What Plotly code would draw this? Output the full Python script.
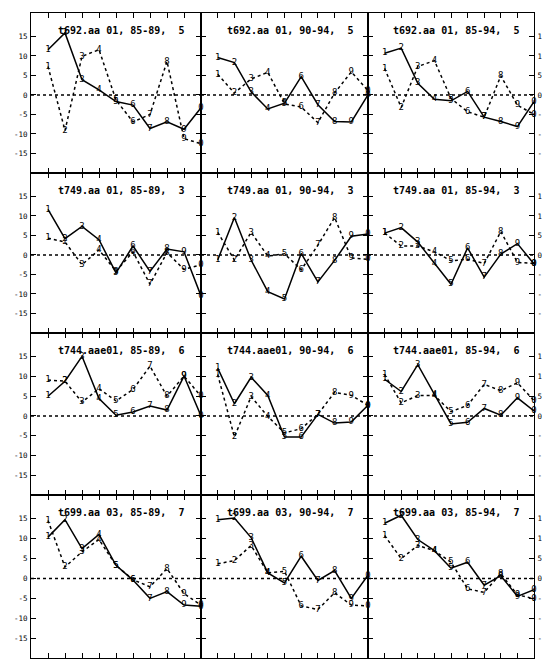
import plotly.graph_objects as go

# ---------------- data ----------------
POINTS = [1, 2, 3, 4, 5, 6, 7, 8, 9, 10]
POINT_LABELS = ["1", "2", "3", "4", "5", "6", "7", "8", "9", "0"]
Y_TICKS = [-15, -10, -5, 0, 5, 10, 15]
X_TICKS = [0, 1, 2, 3, 4, 5, 6, 7, 8, 9, 10]

TITLES = [
    "t692.aa 01, 85-89,  5", "t692.aa 01, 90-94,  5", "t692.aa 01, 85-94,  5",
    "t749.aa 01, 85-89,  3", "t749.aa 01, 90-94,  3", "t749.aa 01, 85-94,  3",
    "t744.aae01, 85-89,  6", "t744.aae01, 90-94,  6", "t744.aae01, 85-94,  6",
    "t699.aa 03, 85-89,  7", "t699.aa 03, 90-94,  7", "t699.aa 03, 85-94,  7",
]

t692_8589_solid = [11.6, 15.9, 3.9, 1.3, -1.7, -2.6, -8.6, -6.9, -8.8, -3.3]
t692_8589_dotted = [7.3, -9.1, 9.9, 11.6, -1.3, -6.9, -5.0, 8.6, -11.2, -12.5]
t692_9094_solid = [9.6, 8.3, 0.8, -3.6, -2.1, 4.7, -2.5, -6.8, -6.9, 0.0]
t692_9094_dotted = [5.3, 0.5, 4.1, 5.8, -2.3, -3.1, -7.1, 0.5, 5.9, 1.1]
t692_8594_solid = [10.7, 12.0, 3.0, -1.1, -1.5, 0.9, -5.7, -6.8, -8.1, -1.7]
t692_8594_dotted = [6.8, -3.2, 7.3, 8.8, -0.9, -4.3, -5.7, 4.9, -2.6, -5.0]

t749_8589_solid = [11.7, 4.2, 7.3, 3.9, -4.6, 2.3, -4.2, 1.5, 0.8, -10.5]
t749_8589_dotted = [4.3, 3.3, -2.5, 1.3, -4.2, 0.8, -7.5, 0.6, -3.7, -2.5]
t749_9094_solid = [-1.3, 9.6, -1.3, -9.4, -11.3, 0.4, -6.9, -1.4, 4.8, 5.4]
t749_9094_dotted = [5.8, -1.3, 5.8, -0.3, 0.3, -3.8, 2.5, 9.6, -0.8, -1.1]
t749_8594_solid = [5.6, 7.0, 3.3, -2.2, -7.5, 1.8, -5.7, 0.2, 2.9, -2.3]
t749_8594_dotted = [5.6, 2.3, 2.3, 0.8, -1.5, -1.1, -2.2, 6.0, -1.9, -2.2]

t744_8589_solid = [5.0, 8.8, 15.1, 4.4, 0.2, 1.0, 2.5, 1.5, 10.1, 0.0]
t744_8589_dotted = [9.1, 8.8, 3.5, 6.9, 3.8, 6.7, 12.6, 5.0, 10.1, 5.0]
t744_9094_solid = [12.1, 3.1, 9.8, 5.2, -5.3, -5.3, 0.4, -1.8, -1.5, 2.7]
t744_9094_dotted = [10.5, -5.3, 4.9, -0.1, -4.3, -3.2, 0.4, 6.0, 5.2, 2.7]
t744_8594_solid = [9.3, 6.2, 13.0, 5.4, -2.0, -1.6, 1.9, 0.2, 4.6, 1.3]
t744_8594_dotted = [10.5, 3.3, 5.2, 5.2, 1.1, 2.7, 8.0, 6.4, 8.4, 3.9]

t699_8589_solid = [10.4, 14.8, 7.5, 11.1, 3.3, -0.4, -5.0, -3.3, -6.7, -7.0]
t699_8589_dotted = [14.6, 2.9, 6.7, 9.8, 3.3, -0.3, -2.1, 2.5, -3.8, -6.7]
t699_9094_solid = [14.8, 15.2, 10.3, 1.4, -1.1, 5.6, -0.5, 2.0, -5.0, 0.8]
t699_9094_dotted = [3.7, 4.5, 8.3, 1.4, 1.8, -6.9, -7.8, -3.6, -6.7, -6.9]
t699_8594_solid = [13.9, 15.9, 9.8, 7.0, 2.6, 4.1, -1.7, 0.7, -4.5, -2.8]
t699_8594_dotted = [10.8, 5.0, 8.3, 7.0, 4.1, -2.6, -3.5, 1.2, -4.1, -5.1]

SOLID = [
    t692_8589_solid, t692_9094_solid, t692_8594_solid,
    t749_8589_solid, t749_9094_solid, t749_8594_solid,
    t744_8589_solid, t744_9094_solid, t744_8594_solid,
    t699_8589_solid, t699_9094_solid, t699_8594_solid,
]
DOTTED = [
    t692_8589_dotted, t692_9094_dotted, t692_8594_dotted,
    t749_8589_dotted, t749_9094_dotted, t749_8594_dotted,
    t744_8589_dotted, t744_9094_dotted, t744_8594_dotted,
    t699_8589_dotted, t699_9094_dotted, t699_8594_dotted,
]

# ---------------- layout geometry ----------------
W, H = 550, 660
ML, MR, MT, MB = 23, 24, 5, 10
col_px = [(23, 193), (193, 360), (360, 526)]
row_px = [(5, 165), (165, 325), (325, 487), (487, 650)]
pw = W - ML - MR
ph = H - MT - MB

MONO = "DejaVu Sans Mono"

fig = go.Figure()
layout = dict(
    width=W, height=H,
    margin=dict(l=ML, r=MR, t=MT, b=MB, pad=0),
    paper_bgcolor="white", plot_bgcolor="white",
    showlegend=False,
    font=dict(family=MONO, color="black", size=9),
)
shapes = []
annotations = []

for r in range(4):
    for c in range(3):
        i = r * 3 + c
        n = i + 1
        sfx = "" if n == 1 else str(n)
        x0 = (col_px[c][0] - ML) / pw
        x1 = (col_px[c][1] - ML) / pw
        y1 = 1 - (row_px[r][0] - MT) / ph
        y0 = 1 - (row_px[r][1] - MT) / ph
        layout["xaxis" + sfx] = dict(
            domain=[x0, x1], anchor="y" + sfx, range=[0, 10],
            tickvals=X_TICKS, ticks="inside", ticklen=5, tickwidth=1.2,
            tickcolor="black", showline=True, linecolor="black", linewidth=1.1,
            mirror="ticks", showticklabels=False, showgrid=False, zeroline=False,
        )
        layout["yaxis" + sfx] = dict(
            domain=[y0, y1], anchor="x" + sfx, range=[-20, 21],
            tickvals=Y_TICKS, ticktext=[str(v) for v in Y_TICKS],
            ticks="inside", ticklen=5, tickwidth=1.2, tickcolor="black",
            showline=True, linecolor="black", linewidth=1.1, mirror="ticks",
            showticklabels=(c != 1), side=("right" if c == 2 else "left"),
            ticklabelstandoff=1,
            tickfont=dict(family=MONO, size=7.5, color="black"),
            showgrid=False, zeroline=False,
        )
        fig.add_trace(go.Scatter(
            x=POINTS, y=SOLID[i], mode="lines+text", text=POINT_LABELS,
            textposition="middle center",
            textfont=dict(family=MONO, size=9, color="black"),
            line=dict(color="black", width=1.5),
            xaxis="x" + sfx, yaxis="y" + sfx, cliponaxis=False,
        ))
        fig.add_trace(go.Scatter(
            x=POINTS, y=DOTTED[i], mode="lines+text", text=POINT_LABELS,
            textposition="middle center",
            textfont=dict(family=MONO, size=9, color="black"),
            line=dict(color="black", width=1.5, dash="dot"),
            xaxis="x" + sfx, yaxis="y" + sfx, cliponaxis=False,
        ))
        shapes.append(dict(
            type="line", xref="x" + sfx + " domain", yref="y" + sfx,
            x0=0, x1=1, y0=0, y1=0,
            line=dict(color="black", width=1.5, dash="dot"),
        ))
        annotations.append(dict(
            xref="x" + sfx + " domain", yref="y" + sfx + " domain",
            x=0.53, y=1, xanchor="center", yanchor="top", yshift=-10,
            text="<b>" + TITLES[i] + "</b>", showarrow=False,
            font=dict(family=MONO, size=10, color="black"),
        ))

layout["shapes"] = shapes
layout["annotations"] = annotations
fig.update_layout(**layout)
fig.write_html("out.html")
